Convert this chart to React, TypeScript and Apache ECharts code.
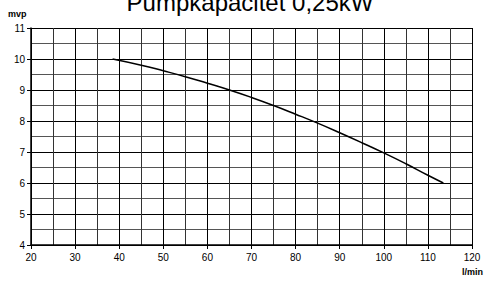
import React, { useEffect, useRef } from "react";
import * as echarts from "echarts";

const titleText = "Pumpkapacitet 0,25kW";
const yAxisName = "mvp";
const xAxisName = "l/min";
const flowValues = [38.5, 45, 50, 55, 60, 65, 70, 75, 80, 85, 90, 95, 100, 105, 110, 113.5];
const headValues = [10.0, 9.8, 9.62, 9.43, 9.22, 9.0, 8.76, 8.5, 8.22, 7.93, 7.62, 7.3, 6.97, 6.62, 6.25, 6.0];

const FONT = "'Liberation Sans', Arial, sans-serif";

export default function App() {
  const ref = useRef<HTMLDivElement>(null);
  useEffect(() => {
    if (!ref.current) return;
    const chart = echarts.init(ref.current, null, { renderer: "svg" });
    chart.setOption({
      animation: false,
      backgroundColor: "#ffffff",
      grid: { left: 31, right: 12, top: 28, bottom: 36 },
      graphic: [
        {
          type: "text",
          x: 250,
          y: 14,
          style: {
            text: titleText,
            fill: "#000",
            font: `24px ${FONT}`,
            textAlign: "center",
            textVerticalAlign: "bottom",
          },
        },
        {
          type: "text",
          x: 8,
          y: 14,
          style: {
            text: yAxisName,
            fill: "#000",
            font: `bold 9px ${FONT}`,
            textAlign: "left",
            textVerticalAlign: "middle",
          },
        },
        {
          type: "text",
          x: 483,
          y: 272,
          style: {
            text: xAxisName,
            fill: "#000",
            font: `bold 9px ${FONT}`,
            textAlign: "right",
            textVerticalAlign: "middle",
          },
        },
      ],
      xAxis: {
        type: "value",
        min: 20,
        max: 120,
        interval: 10,
        axisLine: { show: true, onZero: false, lineStyle: { color: "#000", width: 1.5 } },
        axisTick: { show: true, length: 4, lineStyle: { color: "#000" } },
        axisLabel: { color: "#000", fontSize: 10, fontFamily: FONT, margin: 7 },
        splitLine: { show: true, lineStyle: { color: "#000", width: 1 } },
        minorTick: { show: false, splitNumber: 2 },
        minorSplitLine: { show: true, lineStyle: { color: "#333", width: 1 } },
      },
      yAxis: {
        type: "value",
        min: 4,
        max: 11,
        interval: 1,
        axisLine: { show: true, onZero: false, lineStyle: { color: "#000", width: 1.5 } },
        axisTick: { show: true, length: 4, lineStyle: { color: "#000" } },
        axisLabel: { color: "#000", fontSize: 10, fontFamily: FONT, margin: 6 },
        splitLine: { show: true, lineStyle: { color: "#000", width: 1 } },
        minorTick: { show: false, splitNumber: 2 },
        minorSplitLine: { show: true, lineStyle: { color: "#555", width: 1 } },
      },
      series: [
        {
          type: "line",
          data: flowValues.map((x, i) => [x, headValues[i]]),
          smooth: true,
          showSymbol: false,
          lineStyle: { color: "#000", width: 1.5 },
        },
      ],
    });
    return () => chart.dispose();
  }, []);
  return (
    <div
      ref={ref}
      style={{ position: "fixed", left: 0, top: 0, width: 484, height: 281, background: "#fff" }}
    />
  );
}
